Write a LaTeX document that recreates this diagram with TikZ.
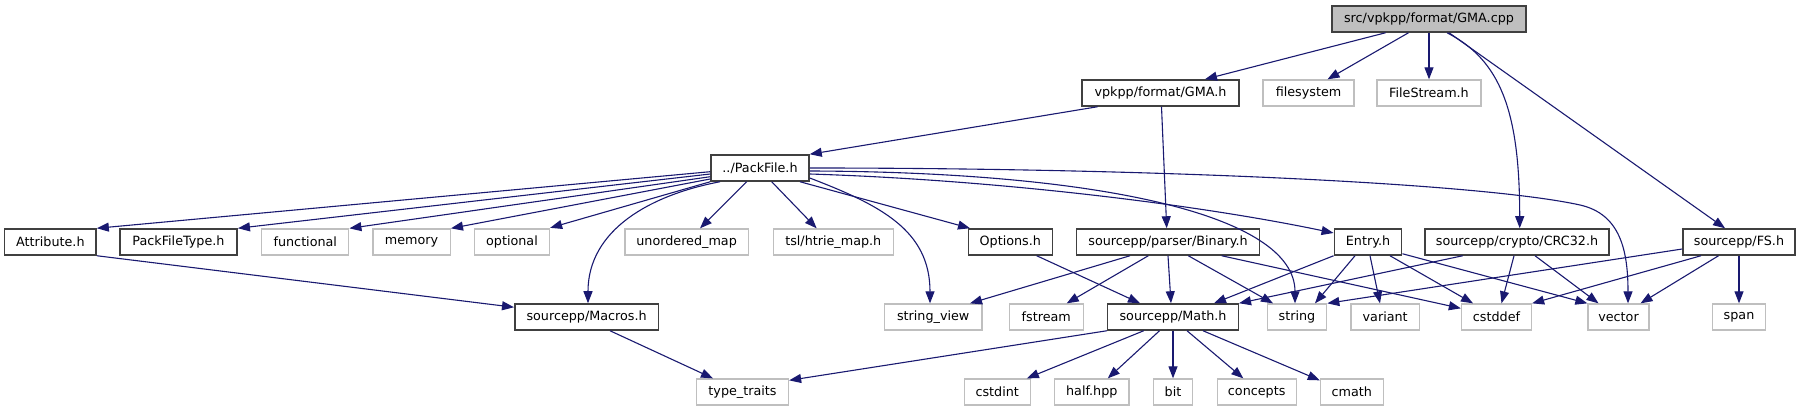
\documentclass[tikz,border=0pt]{standalone}
\usepackage{fontspec}
\setmainfont{DejaVu Sans}
\usetikzlibrary{arrows.meta}
\definecolor{edgeblue}{HTML}{191970}
\definecolor{boxdark}{HTML}{404040}
\definecolor{boxlight}{HTML}{BFBFBF}
\begin{document}
\begin{tikzpicture}[x=1pt,y=-1pt,
  base/.style={inner sep=0pt, minimum height=26pt, fill=white, font=\fontsize{12.75}{15}\selectfont, text=black},
  box/.style={base, draw=boxdark, line width=1.5pt},
  ext/.style={base, draw=boxlight, line width=1.3pt},
  root/.style={base, draw=boxdark, line width=1.5pt, fill=boxlight},
  e/.style={draw=edgeblue, line width=1.1pt, -{Triangle[length=12pt,width=9pt]}, edgeblue}]
\useasboundingbox (0,0) rectangle (1804,411);
% row 0
\node[root, minimum width=194pt] (cpp) at (1429,19) {src/vpkpp/format/GMA.cpp};
% row 1
\node[box, minimum width=157pt] (gmah) at (1160.5,93) {vpkpp/format/GMA.h};
\node[ext, minimum width=91pt] (filesystem) at (1308.5,93) {filesystem};
\node[ext, minimum width=104pt] (filestream) at (1429,93) {FileStream.h};
% row 2
\node[box, minimum width=98pt] (packfile) at (760,168) {../PackFile.h};
% row 3
\node[box, minimum width=91.4pt] (attribute) at (50.4,242) {Attribute.h};
\node[box, minimum width=117.4pt] (packfiletype) at (178.5,242) {PackFileType.h};
\node[ext, minimum width=87pt] (functional) at (305.3,242) {functional};
\node[ext, minimum width=77.5pt] (memory) at (411.6,242) {memory};
\node[ext, minimum width=75pt] (optional) at (512,242) {optional};
\node[ext, minimum width=123.4pt] (unordered) at (686.6,242) {unordered\_map};
\node[ext, minimum width=120.2pt] (htrie) at (833.3,242) {tsl/htrie\_map.h};
\node[box, minimum width=84pt] (options) at (1010.3,242) {Options.h};
\node[box, minimum width=182.6pt] (binary) at (1168,242) {sourcepp/parser/Binary.h};
\node[box, minimum width=67.4pt] (entry) at (1368,242) {Entry.h};
\node[box, minimum width=184pt] (crc32) at (1517,242) {sourcepp/crypto/CRC32.h};
\node[box, minimum width=112pt] (fs) at (1739,242) {sourcepp/FS.h};
% row 4
\node[box, minimum width=143.7pt] (macros) at (586.6,317) {sourcepp/Macros.h};
\node[ext, minimum width=97.7pt] (stringview) at (933.2,317) {string\_view};
\node[ext, minimum width=74pt] (fstream) at (1046.3,317) {fstream};
\node[box, minimum width=130.6pt] (math) at (1173,317) {sourcepp/Math.h};
\node[ext, minimum width=59.4pt] (string) at (1297,317) {string};
\node[ext, minimum width=68.3pt] (variant) at (1385.2,317) {variant};
\node[ext, minimum width=70pt] (cstddef) at (1496.5,317) {cstddef};
\node[ext, minimum width=61pt] (vector) at (1618.5,317) {vector};
\node[ext, minimum width=52.6pt] (span) at (1739,317) {span};
% row 5
\node[ext, minimum width=92pt] (typetraits) at (742.5,392) {type\_traits};
\node[ext, minimum width=66pt] (cstdint) at (997.2,392) {cstdint};
\node[ext, minimum width=74.3pt] (halfhpp) at (1091.8,392) {half.hpp};
\node[ext, minimum width=38.7pt] (bit) at (1173,392) {bit};
\node[ext, minimum width=79pt] (concepts) at (1256.7,392) {concepts};
\node[ext, minimum width=62.8pt] (cmath) at (1351.8,392) {cmath};

% edges from GMA.cpp
\draw[e] ([xshift=-43.4pt]cpp.south) -- ([xshift=44.5pt]gmah.north);
\draw[e] ([xshift=-20.5pt]cpp.south) -- ([xshift=19pt]filesystem.north);
\draw[e] (cpp.south) -- (filestream.north);
\draw[e] ([xshift=18pt]cpp.south) .. controls (1500,60) and (1519.7,110) .. ([xshift=2.7pt]crc32.north);
\draw[e] ([xshift=20pt]cpp.south) -- ([xshift=-14pt]fs.north);
% edges from GMA.h
\draw[e] ([xshift=-63pt]gmah.south) -- (packfile.north east);
\draw[e] ([xshift=1pt]gmah.south) -- ([xshift=-1.3pt]binary.north);
% edges from PackFile.h
\draw[e] ([yshift=-3.7pt]packfile.west) -- (attribute.north east);
\draw[e] ([yshift=-6pt]packfile.west) -- (packfiletype.north east);
\draw[e] ([yshift=-8.7pt]packfile.west) -- (functional.north east);
\draw[e] ([yshift=-11pt]packfile.west) -- (memory.north east);
\draw[e] (packfile.south west) -- ([yshift=0.5pt]optional.north east);
\draw[e] ([xshift=-40pt]packfile.south) .. controls (650,195) and (588,230) .. ([xshift=1.4pt]macros.north);
\draw[e] ([xshift=-13.3pt]packfile.south) -- ([xshift=13.4pt]unordered.north);
\draw[e] ([xshift=11.7pt]packfile.south) -- ([xshift=-16.6pt]htrie.north);
\draw[e] ([yshift=-10pt]packfile.east) .. controls (880,205) and (930,230) .. ([xshift=-3.2pt]stringview.north);
\draw[e] ([xshift=40pt]packfile.south) -- ([xshift=-40.3pt]options.north);
\draw[e] ([yshift=-3pt]packfile.east) .. controls (1100,172) and (1295,215) .. ([xshift=-2pt]string.north);
\draw[e] ([yshift=-6pt]packfile.east) .. controls (1000,180) and (1200,205) .. ([yshift=9pt]entry.west);
\draw[e] (packfile.east) .. controls (1150,168) and (1480,183) .. (1580,205) .. controls (1620,214) and (1628,250) .. ([xshift=9.5pt]vector.north);
% Attribute.h, Macros.h, Options.h
\draw[e] (attribute.south east) -- ([yshift=-4pt]macros.north west);
\draw[e] ([xshift=23.4pt]macros.south) -- ([xshift=-29.5pt]typetraits.north);
\draw[e] ([xshift=26.4pt]options.south) -- ([xshift=-33pt]math.north);
% Binary.h
\draw[e] ([xshift=-38pt]binary.south) -- ([xshift=36.8pt]stringview.north);
\draw[e] ([xshift=-19.7pt]binary.south) -- ([xshift=20.4pt]fstream.north);
\draw[e] (binary.south) -- ([xshift=-2pt]math.north);
\draw[e] ([xshift=20.3pt]binary.south) -- ([xshift=-24pt]string.north);
\draw[e] ([xshift=53.7pt]binary.south) -- ([yshift=-5pt]cstddef.north west);
% Entry.h
\draw[e] (entry.south west) -- ([xshift=41pt]math.north);
\draw[e] ([xshift=-13pt]entry.south) -- ([xshift=18pt]string.north);
\draw[e] ([xshift=2pt]entry.south) -- ([xshift=-5.2pt]variant.north);
\draw[e] ([xshift=22pt]entry.south) -- ([xshift=-23.5pt]cstddef.north);
\draw[e] ([yshift=2pt]entry.south east) -- (vector.north west);
% CRC32.h
\draw[e] ([xshift=-54.3pt]crc32.south) -- (math.north east);
\draw[e] ([xshift=-3pt]crc32.south) -- ([xshift=5pt]cstddef.north);
\draw[e] ([xshift=18pt]crc32.south) -- ([xshift=-20pt]vector.north);
% FS.h
\draw[e] ([yshift=-7pt]fs.west) -- (string.north east);
\draw[e] ([xshift=-38pt]fs.south) -- (cstddef.north east);
\draw[e] ([xshift=-20.5pt]fs.south) -- ([xshift=22pt]vector.north);
\draw[e] (fs.south) -- (span.north);
% Math.h
\draw[e] (math.south west) -- ([yshift=-2pt]typetraits.north east);
\draw[e] ([xshift=-29.3pt]math.south) -- ([xshift=-4pt]cstdint.north east);
\draw[e] ([xshift=-13.5pt]math.south) -- ([xshift=16pt]halfhpp.north);
\draw[e] (math.south) -- (bit.north);
\draw[e] ([xshift=14pt]math.south) -- ([xshift=-13.4pt]concepts.north);
\draw[e] ([xshift=30pt]math.south) -- ([yshift=-2pt]cmath.north west);
\end{tikzpicture}
\end{document}
